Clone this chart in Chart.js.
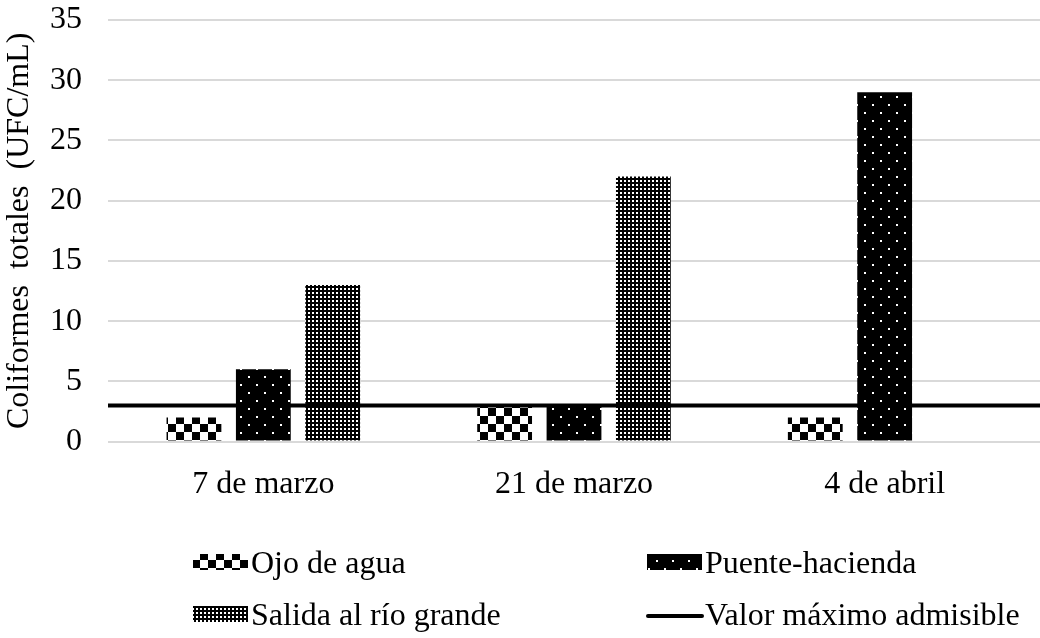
<!DOCTYPE html>
<html lang="es">
<head>
<meta charset="utf-8">
<title>Coliformes totales</title>
<script src="https://cdn.jsdelivr.net/npm/chart.js@4/dist/chart.umd.min.js"></script>
<style>
  html, body { margin: 0; padding: 0; background: #ffffff; }
  #wrap { width: 1040px; height: 638px; }
</style>
</head>
<body>
<div id="wrap"><canvas id="chart" width="1040" height="638"></canvas></div>
<script>
// Sampling dates
const categories = ['7 de marzo', '21 de marzo', '4 de abril'];

// Total coliforms per sampling point (UFC/mL)
const ojoDeAgua = [2, 3, 2];
const puenteHacienda = [6, 3, 29];
const salidaRioGrande = [13, 22, 0];

// Maximum admissible value
const valorMaximo = 3;

// Y axis ticks
const yMin = 0;
const yMax = 35;
const yStep = 5;

const seriesNames = ['Ojo de agua', 'Puente-hacienda', 'Salida al río grande', 'Valor máximo admisible'];

const FONT = '"Liberation Serif", "Times New Roman", serif';

// Fill patterns used for the bars
function makePattern(size, draw) {
  const c = document.createElement('canvas');
  c.width = size; c.height = size;
  const g = c.getContext('2d');
  draw(g, size);
  return g.createPattern(c, 'repeat');
}
const ctxMain = document.getElementById('chart').getContext('2d');
const checkerPattern = makePattern(16, (g) => {
  g.fillStyle = '#ffffff'; g.fillRect(0, 0, 16, 16);
  g.fillStyle = '#000000'; g.fillRect(0, 0, 8, 8); g.fillRect(8, 8, 8, 8);
});
const dottedPattern = makePattern(16, (g) => {
  g.fillStyle = '#000000'; g.fillRect(0, 0, 16, 16);
  g.fillStyle = '#ffffff'; g.fillRect(0, 0, 2, 2); g.fillRect(8, 8, 2, 2);
});
const densePattern = makePattern(4, (g) => {
  g.fillStyle = '#000000'; g.fillRect(0, 0, 4, 4);
  g.fillStyle = '#ffffff'; g.fillRect(0, 0, 2, 2);
});

// Horizontal reference line across the whole plot area at the admissible value
const limitLine = {
  id: 'limitLine',
  afterDatasetsDraw(chart) {
    const { ctx, chartArea, scales } = chart;
    const y = scales.y.getPixelForValue(valorMaximo);
    ctx.save();
    ctx.strokeStyle = '#000000';
    ctx.lineWidth = 4;
    ctx.beginPath();
    ctx.moveTo(chartArea.left, y);
    ctx.lineTo(chartArea.right, y);
    ctx.stroke();
    ctx.restore();
  }
};

// Two-column legend below the axis labels
const gridLegend = {
  id: 'gridLegend',
  afterDraw(chart) {
    const ctx = chart.ctx;
    const cols = [193, 647];
    const rows = [562, 614];
    const fills = [checkerPattern, dottedPattern, densePattern, null];
    const order = [[0, 0, 0], [1, 1, 0], [2, 0, 1], [3, 1, 1]];
    ctx.save();
    ctx.font = '32px ' + FONT;
    ctx.textBaseline = 'middle';
    ctx.textAlign = 'left';
    order.forEach(([i, c, r]) => {
      const x = cols[c];
      const y = rows[r];
      const w = 55;
      if (fills[i]) {
        ctx.fillStyle = fills[i];
        ctx.fillRect(x, y - 8, w, 16);
      } else {
        ctx.strokeStyle = '#000000';
        ctx.lineWidth = 4;
        ctx.lineCap = 'round';
        ctx.beginPath();
        ctx.moveTo(x + 1, y + 2);
        ctx.lineTo(x + w, y + 2);
        ctx.stroke();
      }
      ctx.fillStyle = '#000000';
      ctx.fillText(seriesNames[i], x + w + 3, y + 3);
    });
    ctx.restore();
  }
};

new Chart(ctxMain, {
  type: 'bar',
  data: {
    labels: categories,
    datasets: [
      { label: seriesNames[0], data: ojoDeAgua, backgroundColor: checkerPattern },
      { label: seriesNames[1], data: puenteHacienda, backgroundColor: dottedPattern },
      { label: seriesNames[2], data: salidaRioGrande, backgroundColor: densePattern }
    ]
  },
  options: {
    responsive: false,
    devicePixelRatio: 1,
    animation: false,
    layout: { padding: { top: 0, right: 0, bottom: 118, left: 0 } },
    categoryPercentage: 0.67,
    barPercentage: 0.79,
    plugins: { legend: { display: false }, tooltip: { enabled: false } },
    scales: {
      x: {
        grid: { display: false },
        border: { display: false },
        ticks: { color: '#000000', font: { family: FONT, size: 32 }, padding: 16, maxRotation: 0 }
      },
      y: {
        min: yMin,
        max: yMax,
        border: { display: false },
        grid: { color: '#d9d9d9', lineWidth: 2, drawTicks: false },
        ticks: { stepSize: yStep, color: '#000000', font: { family: FONT, size: 32 }, padding: 26 },
        title: {
          display: true,
          text: 'Coliformes  totales  (UFC/mL)',
          color: '#000000',
          font: { family: FONT, size: 32 },
          padding: { top: 0, bottom: 0 }
        },
        afterFit(scale) {
          scale.width = 108;
          scale.paddingTop = 20;
          scale.paddingBottom = 20;
        }
      }
    }
  },
  plugins: [limitLine, gridLegend]
});
</script>
</body>
</html>
